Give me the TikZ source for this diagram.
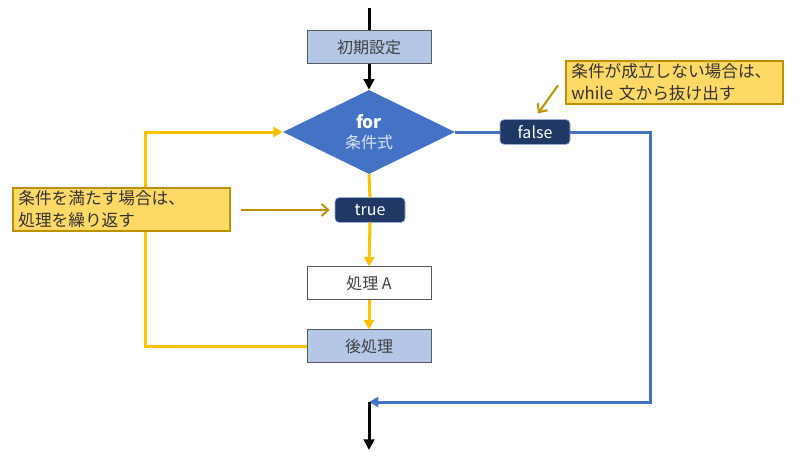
\documentclass[tikz,border=0pt]{standalone}
\usepackage{fontspec}
\setmainfont{Noto Sans CJK JP}
\usepackage{xcolor}
\usetikzlibrary{arrows.meta, shapes.geometric, calc}
\definecolor{boxblue}{HTML}{B4C7E7}
\definecolor{condblue}{HTML}{4472C4}
\definecolor{tagnavy}{HTML}{203864}
\definecolor{flowyellow}{HTML}{FFC000}
\definecolor{notefill}{HTML}{FFD966}
\definecolor{notegold}{HTML}{BF9000}
\definecolor{textgray}{HTML}{404040}
\definecolor{condtext}{HTML}{DCE4F5}

\begin{document}
\begin{tikzpicture}[
    x=0.75pt, y=-0.75pt,
    every node/.style={font=\fontsize{12}{16.5}\selectfont},
    procbox/.style={draw=gray!70!black, fill=boxblue, text=textgray,
      minimum width=93pt, minimum height=24.5pt, inner sep=0pt},
    cond/.style={diamond, fill=condblue, text=white, align=center,
      minimum width=129pt, minimum height=56pt, inner sep=0pt},
    tag/.style={fill=tagnavy, draw=condblue!60, text=white, rounded corners=3pt,
      minimum width=52.5pt, minimum height=18.5pt, inner sep=0pt},
    note/.style={fill=notefill, draw=notegold, line width=1.5pt, text=black!80,
      anchor=north west, align=left, text width=155pt, minimum height=32pt,
      inner xsep=4pt, inner ysep=0pt, font=\fontsize{12.5}{16.8}\selectfont},
    blackline/.style={line width=2.25pt, black},
    blackarrow/.style={blackline, -{Triangle[length=8pt, width=8pt]}},
    yline/.style={line width=2.25pt, flowyellow},
    yarrow/.style={yline, -{Triangle[length=7pt, width=7.5pt]}},
    blueline/.style={line width=2.25pt, condblue},
    bluearrow/.style={blueline, -{Triangle[length=7pt, width=7.5pt]}},
    hint/.style={line width=1.5pt, notegold, -{Straight Barb[length=5pt, width=9pt]}}
]
\useasboundingbox (0,0) rectangle (800,464);

% 流れの節点
\coordinate (top) at (369,8);
\node[procbox] (init) at (369,47) {初期設定};
\node[cond] (cond) at (369,132) {\fontsize{13}{14}\selectfont\bfseries for\\[-1pt]{\color{condtext}条件式}};
\node[tag] (false) at (535,132) {false};
\node[tag] (true) at (370,210) {true};
\node[procbox, fill=white] (proc) at (369,283) {処理 A};
\node[procbox] (post) at (369,346) {後処理};
\coordinate (rcorner) at (650,402);
\coordinate (join) at (369,402);
\coordinate (bottom) at (369,450);
\coordinate (lcorner) at (145,346);

% 接続
\draw[blackline] (top) -- (init.north);
\draw[blackarrow] (init.south) -- (cond.north);
\draw[yline] (cond.south) -- (true.north);
\draw[yarrow] (true.south) -- (proc.north);
\draw[yarrow] (proc.south) -- (post.north);
\draw[yarrow] (post.west) -- (lcorner) |- (cond.west);
\draw[blueline] (cond.east) -- (false.west);
\draw[bluearrow] (false.east) -| (rcorner) -- (join);
\draw[blackarrow] (join) -- (bottom);

% 説明
\node[note] (noteL) at (12,187) {条件を満たす場合は、\\処理を繰り返す};
\node[note] (noteR) at (565,60) {条件が成立しない場合は、\\while 文から抜け出す};
\draw[hint] ($(noteL.east |- true.west)+(10,0)$) -- ($(true.west)+(-5,0)$);
\draw[hint] ($(noteR.west)+(-7,3)$) -- ($(false.north)+(3,-6)$);

\end{tikzpicture}
\end{document}
